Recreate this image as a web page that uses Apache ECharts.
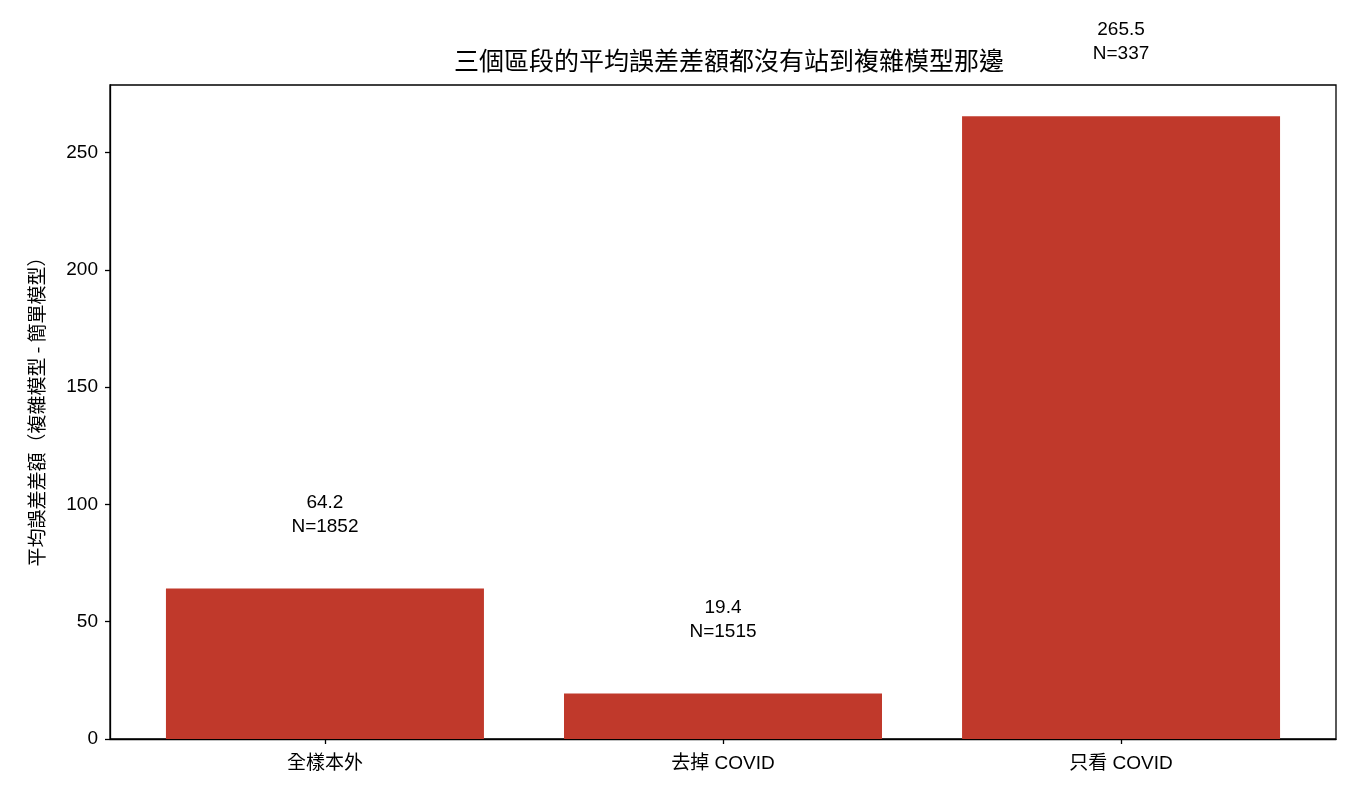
<!DOCTYPE html>
<html><head><meta charset="utf-8">
<script src="https://cdn.jsdelivr.net/npm/echarts@6/dist/echarts.min.js"></script>
<style>html,body{margin:0;padding:0;background:#fff}#c{width:1360px;height:800px}</style>
</head><body><div id="c"></div>
<script>
const categories = ['全樣本外', '去掉 COVID', '只看 COVID'];
const meanDiff = [64.2, 19.4, 265.5];
const sampleN = [1852, 1515, 337];
const yTicks = [0, 50, 100, 150, 200, 250];
const xTicks = [0, 1, 2];

const FONT = "'Liberation Sans', 'Noto Sans CJK TC', sans-serif";
const CJK = "'Noto Sans CJK TC', 'Liberation Sans', sans-serif";
const chart = echarts.init(document.getElementById('c'), null, {renderer: 'canvas'});
chart.setOption({
  backgroundColor: '#fff',
  animation: false,
  title: {
    text: '三個區段的平均誤差差額都沒有站到複雜模型那邊',
    left: 724, top: 46, textAlign: 'center',
    textStyle: {fontFamily: FONT, fontSize: 25, fontWeight: 'normal', color: '#000'}
  },
  grid: {left: 110, right: 24, top: 85, bottom: 61, show: true, borderColor: '#000', borderWidth: 1.3, containLabel: false},
  xAxis: {
    type: 'value', min: -0.54, max: 2.54,
    splitLine: {show: false},
    axisLine: {show: true, onZero: false, lineStyle: {color: '#000', width: 1.3}},
    axisTick: {show: true, customValues: xTicks, length: 5, lineStyle: {color: '#000', width: 1.3}},
    axisLabel: {customValues: xTicks, formatter: v => categories[Math.round(v)], color: '#000', fontFamily: FONT, fontSize: 19, margin: 15}
  },
  yAxis: {
    type: 'value', min: 0, max: 278.8,
    name: '平均誤差差額（複雜模型 - 簡單模型）',
    nameLocation: 'middle', nameGap: 64, nameRotate: 90,
    nameTextStyle: {fontFamily: CJK, fontSize: 19, color: '#000', padding: [0, 0, 0, 10]},
    splitLine: {show: false},
    axisLine: {show: true, onZero: false, lineStyle: {color: '#000', width: 1.3}},
    axisTick: {show: true, customValues: yTicks, length: 5, lineStyle: {color: '#000', width: 1.3}},
    axisLabel: {customValues: yTicks, color: '#000', fontFamily: FONT, fontSize: 19, margin: 12}
  },
  series: [{
    type: 'bar',
    data: meanDiff.map((v, i) => [i, v]),
    barWidth: 318,
    itemStyle: {color: '#c0392b'},
    label: {
      show: true, position: 'top', distance: 50,
      formatter: p => meanDiff[p.dataIndex].toFixed(1) + '\nN=' + sampleN[p.dataIndex],
      fontFamily: FONT, fontSize: 19, lineHeight: 24, color: '#000', align: 'center'
    }
  }]
});
</script></body></html>
